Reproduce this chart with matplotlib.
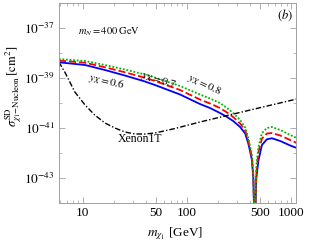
import numpy as np
import matplotlib
matplotlib.use("Agg")
import matplotlib.pyplot as plt
from matplotlib.ticker import FixedLocator, NullFormatter

plt.rcParams['font.family'] = 'Liberation Serif'
plt.rcParams['mathtext.fontset'] = 'stix'

# DM mass grid (GeV) used for the three y_X curves
mass = [5.88, 10.5, 16.3, 25.3, 39.5, 49.2, 85.7, 133, 166, 207, 242, 277, 323, 361,
        386, 404, 419, 432, 440, 446, 452, 462, 485, 523, 584, 652, 784, 977, 1130]

# log10(sigma_SD / cm^2)
log_sig_06 = [-38.37, -38.48, -38.68, -38.90, -39.14, -39.28, -39.66, -40.04, -40.20, -40.40,
              -40.56, -40.72, -40.96, -41.22, -41.60, -41.96, -42.28, -43.0, -44.3, -48.0,
              -44.3, -43.0, -42.28, -41.68, -41.45, -41.41, -41.52, -41.70, -41.80]
log_sig_07 = [-38.30, -38.39, -38.57, -38.77, -38.99, -39.12, -39.48, -39.86, -40.02, -40.20,
              -40.38, -40.56, -40.82, -41.10, -41.49, -41.86, -42.19, -42.9, -44.25, -48.0,
              -44.25, -42.8, -41.95, -41.42, -41.22, -41.20, -41.30, -41.48, -41.60]
log_sig_08 = [-38.24, -38.32, -38.48, -38.66, -38.86, -38.98, -39.32, -39.66, -39.82, -40.00,
              -40.20, -40.40, -40.68, -40.97, -41.38, -41.76, -42.10, -42.8, -44.2, -48.0,
              -44.2, -42.5, -41.75, -41.20, -41.00, -40.96, -41.08, -41.28, -41.40]

# Xenon1T limit
xenon_mass = [5.88, 6.71, 8.38, 10.5, 13.0, 16.3, 20.3, 25.3, 31.6, 39.5, 49.2, 76.6, 133, 404, 1130]
xenon_log = [-38.36, -38.76, -39.56, -40.08, -40.48, -40.80, -41.00, -41.16, -41.24, -41.24,
             -41.20, -41.02, -40.76, -40.28, -39.84]

fig = plt.figure(figsize=(3.12, 2.43), dpi=100)
ax = fig.add_axes([0.189, 0.1646, 0.761, 0.823])

ax.plot(mass, 10.0 ** np.array(log_sig_06), color='#0000ff', lw=1.3, ls='-')
ax.plot(mass, 10.0 ** np.array(log_sig_07), color='#ff0000', lw=1.3, ls=(0, (4, 1.6)))
ax.plot(mass, 10.0 ** np.array(log_sig_08), color='#00b400', lw=1.3, ls=(0, (1, 1)))
ax.plot(xenon_mass, 10.0 ** np.array(xenon_log), color='black', lw=1.0,
        ls=(0, (4, 1.5, 1, 1.5)))

ax.set_xscale('log')
ax.set_yscale('log')
ax.set_xlim(5.9, 1120)
ax.set_ylim(1e-44, 1e-36)

# ticks
ax.xaxis.set_major_locator(FixedLocator([10, 50, 100, 500, 1000]))
ax.set_xticklabels(['10', '50', '100', '500', '1000'])
minor_x = [6, 7, 8, 9, 20, 30, 40, 60, 70, 80, 90, 200, 300, 400, 600, 700, 800, 900]
ax.xaxis.set_minor_locator(FixedLocator(minor_x))
ax.xaxis.set_minor_formatter(NullFormatter())

ax.yaxis.set_major_locator(FixedLocator([1e-43, 1e-41, 1e-39, 1e-37]))
ax.set_yticklabels([r'$10^{-43}$', r'$10^{-41}$', r'$10^{-39}$', r'$10^{-37}$'])
ax.yaxis.set_minor_locator(FixedLocator([1e-44, 1e-42, 1e-40, 1e-38]))
ax.yaxis.set_minor_formatter(NullFormatter())

ax.tick_params(which='both', direction='in', top=True, right=True, color='#a0a0a0',
               labelsize=9.5, pad=3)
ax.tick_params(which='major', length=4, width=0.6)
ax.tick_params(which='minor', length=2.2, width=0.5)
for sp in ax.spines.values():
    sp.set_color('#a0a0a0')
    sp.set_linewidth(0.7)

ax.set_xlabel(r'$m_{\chi_1}$ [GeV]', fontsize=9.5)
ax.xaxis.set_label_coords(0.49, -0.11)
ax.set_ylabel(r'$\sigma^{\mathrm{SD}}_{\chi_1\mathrm{-Nucleon}}\,[\mathrm{cm}^2]$', fontsize=9)
ax.yaxis.set_label_coords(-0.148, 0.585)

# annotations
ax.text(0.08, 0.855, r'$m_N = 400\;\mathrm{GeV}$', transform=ax.transAxes, fontsize=7.5,
        va='center')
ax.text(0.952, 0.94, r'$(b)$', transform=ax.transAxes, fontsize=9, ha='center', va='center')
ax.text(17.0, 7.6e-40, r'$y_X = 0.6$', fontsize=8, rotation=-13, ha='center', va='center')
ax.text(52.6, 8.3e-40, r'$y_X = 0.7$', fontsize=8, rotation=-17, ha='center', va='center')
ax.text(146, 5.2e-40, r'$y_X = 0.8$', fontsize=8, rotation=-25, ha='center', va='center')
ax.text(35.3, 3.6e-42, 'Xenon1T', fontsize=8.5, ha='center', va='center')

fig.savefig('out.png', dpi=100)
